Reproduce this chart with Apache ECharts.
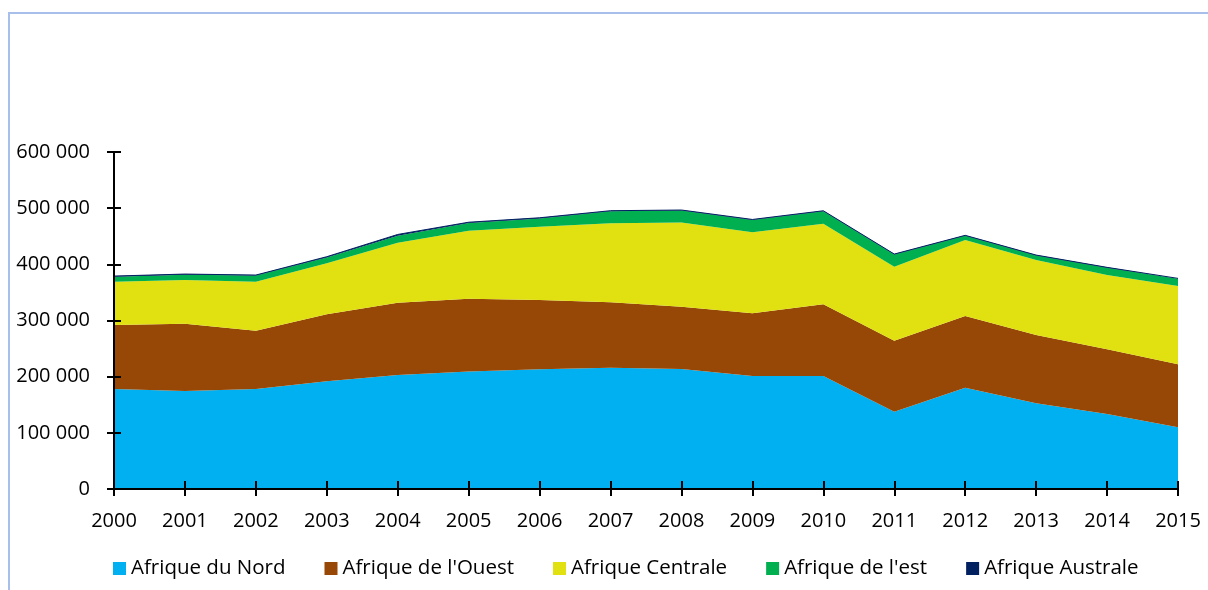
<!DOCTYPE html>
<html>
<head>
<meta charset="utf-8">
<script src="https://cdn.jsdelivr.net/npm/echarts@6/dist/echarts.min.js"></script>
<style>
    html, body { margin: 0; padding: 0; background: #fff; }
    #container { width: 1208px; height: 590px; }
</style>
</head>
<body>
<div id="container"></div>
<script type="text/javascript">
    // donnees
    var annees = ['2000', '2001', '2002', '2003', '2004', '2005', '2006', '2007',
                  '2008', '2009', '2010', '2011', '2012', '2013', '2014', '2015'];
    var nord     = [178000, 174500, 178000, 192000, 203000, 209000, 213000, 216000, 213600, 201200, 201200, 137600, 180400, 152600, 133500, 109800];
    var ouest    = [114000, 119800, 103900, 119000, 128500, 129900, 123500, 116400, 111100, 111600, 127800, 126400, 127600, 121600, 115200, 112200];
    var centrale = [ 77100,  77800,  87200,  90800, 107000, 121100, 130500, 140600, 149600, 144200, 143400, 131800, 135300, 133500, 132300, 139400];
    var est      = [  9000,   9500,  10800,  10500,  12500,  13800,  14800,  21500,  21400,  22000,  22000,  21600,   7500,   8000,  12800,  12800];
    var australe = [  1000,   1100,   1000,   1300,   2200,   1200,   1100,   1000,   1000,    900,   1000,    900,    800,    800,    800,    800];
    var yTicks = [0, 100000, 200000, 300000, 400000, 500000, 600000];

    var police = 'Open Sans';
    var dom = document.getElementById("container");
    var myChart = echarts.init(dom);

    function serie(nom, data, couleur, trait) {
        return {
            name: nom,
            type: 'line',
            stack: 'total',
            data: data,
            symbol: 'none',
            xAxisIndex: 0,
            yAxisIndex: 0,
            lineStyle: { width: trait, color: couleur },
            itemStyle: { color: couleur },
            areaStyle: { color: couleur, opacity: 1 }
        };
    }

    var axeY = {
        type: 'value',
        min: yTicks[0],
        max: yTicks[yTicks.length - 1],
        interval: yTicks[1] - yTicks[0],
        position: 'left',
        z: 10,
        splitLine: { show: false },
        axisLine: { show: true, lineStyle: { color: '#000', width: 2 } },
        axisTick: { show: true, length: 7, lineStyle: { color: '#000', width: 2 } },
        axisLabel: {
            color: '#000', fontFamily: police, fontSize: 20, margin: 24,
            formatter: function (v) { return v === 0 ? '0' : (v / 1000) + ' 000'; }
        }
    };
    var axeX = {
        type: 'category',
        data: annees,
        boundaryGap: false,
        position: 'bottom',
        z: 10,
        axisLine: { show: true, lineStyle: { color: '#000', width: 2 } },
        axisTick: { show: true, length: 7, alignWithLabel: true, lineStyle: { color: '#000', width: 2 } },
        axisLabel: { color: '#000', fontFamily: police, fontSize: 20, margin: 22 }
    };

    var option = {
        animation: false,
        graphic: [{
            type: 'rect',
            shape: { x: 9, y: 13, width: 1400, height: 800 },
            style: { fill: 'none', stroke: '#a7bfea', lineWidth: 2 }
        }],
        grid: { left: 114, right: 30, top: 152, bottom: 101 },
        legend: {
            left: 108,
            top: 553,
            itemWidth: 13,
            itemHeight: 13,
            itemGap: 39,
            icon: 'rect',
            textStyle: { color: '#000', fontFamily: police, fontSize: 20.5 },
            data: ['Afrique du Nord', "Afrique de l'Ouest", 'Afrique Centrale', "Afrique de l'est", 'Afrique Australe']
        },
        xAxis: [
            axeX,
            Object.assign({}, axeX, {
                axisLine: { show: false },
                axisLabel: { show: false },
                axisTick: { show: true, inside: true, length: 8, lineStyle: { color: '#000', width: 2 } }
            })
        ],
        yAxis: [
            axeY,
            Object.assign({}, axeY, {
                axisLine: { show: false },
                axisLabel: { show: false },
                axisTick: { show: true, inside: true, length: 7, lineStyle: { color: '#000', width: 2 } }
            })
        ],
        series: [
            serie('Afrique du Nord', nord, '#00b0f0', 0),
            serie("Afrique de l'Ouest", ouest, '#974706', 0),
            serie('Afrique Centrale', centrale, '#e1e111', 0),
            serie("Afrique de l'est", est, '#00b050', 0),
            serie('Afrique Australe', australe, '#002060', 1)
        ]
    };

    if (option && typeof option === 'object') {
        myChart.setOption(option);
    }
</script>
</body>
</html>
